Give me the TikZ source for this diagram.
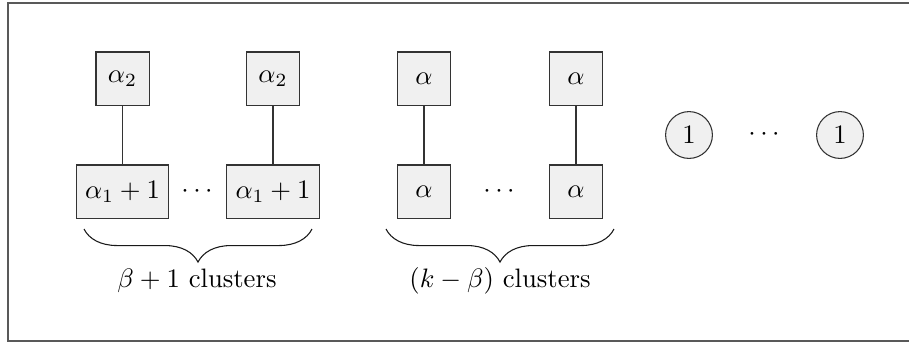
\documentclass[tikz,border=0pt]{standalone}
\usetikzlibrary{decorations.pathreplacing}
\begin{document}
\begin{tikzpicture}[x=0.375pt,y=-0.375pt,
  sq/.style={draw=black!80, fill=black!6, minimum size=19.9pt, inner sep=3.33pt},
  ci/.style={circle, draw=black!80, fill=black!6, inner sep=3.33pt},
  link/.style={draw=black!80},
  brc/.style={decorate, decoration={brace, amplitude=12.4pt, mirror}, black!90},
  lbl/.style={inner sep=0pt}
]
\useasboundingbox (0,0) rectangle (909,344);
\draw[black!65, line width=0.6pt] (8,3) rectangle (925,341);

% group 1
\node[sq] (a1) at (122.5,78.5) {$\alpha_2$};
\node[sq] (a2) at (273,78.5) {$\alpha_2$};
\node[sq] (b1) at (122.5,191.5) {$\alpha_1+1$};
\node[sq] (b2) at (273,191.5) {$\alpha_1+1$};
\node (d1) at (197,191.5) {$\cdots$};
\draw[link] (a1) -- (b1);
\draw[link] (a2) -- (b2);
\coordinate (g1l) at (84,229);
\coordinate (g1r) at (312,229);
\draw[brc] (g1l) -- (g1r);
\node[lbl] (t1) at (197,281) {$\beta+1$ clusters};

% group 2
\node[sq] (c1) at (424,78.5) {$\alpha$};
\node[sq] (c2) at (576,78.5) {$\alpha$};
\node[sq] (e1) at (424,191.5) {$\alpha$};
\node[sq] (e2) at (576,191.5) {$\alpha$};
\node (d2) at (499,191.5) {$\cdots$};
\draw[link] (c1) -- (e1);
\draw[link] (c2) -- (e2);
\coordinate (g2l) at (386,229);
\coordinate (g2r) at (614,229);
\draw[brc] (g2l) -- (g2r);
\node[lbl] (t2) at (500,281) {$(k-\beta)$ clusters};

% group 3
\node[ci] (o1) at (689,135) {$1$};
\node[ci] (o2) at (840,135) {$1$};
\node (d3) at (764,135) {$\cdots$};
\end{tikzpicture}
\end{document}
